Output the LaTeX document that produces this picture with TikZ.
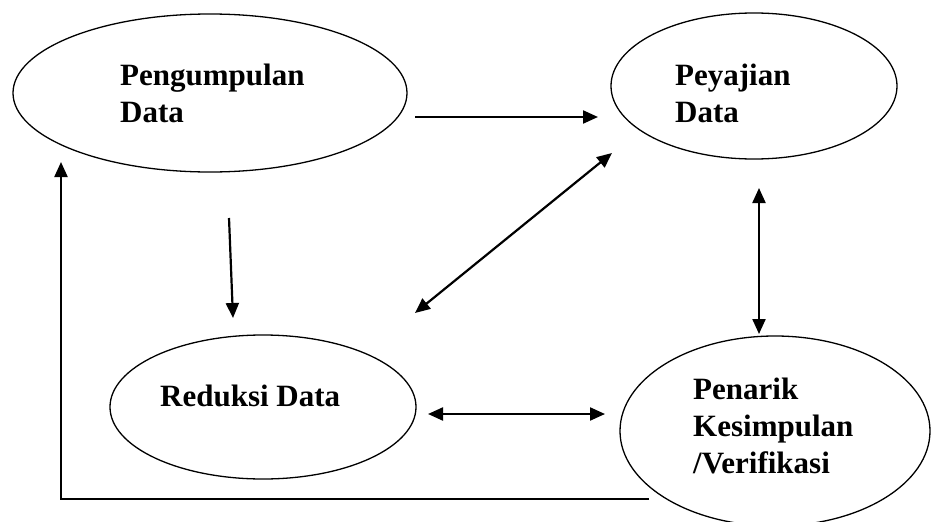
\documentclass[tikz,border=0pt]{standalone}
\usepackage{fontspec}
\setmainfont{Liberation Serif}
\usetikzlibrary{shapes.geometric,arrows.meta}
\begin{document}
\begin{tikzpicture}[x=1pt,y=-1pt,
  bubble/.style={draw,ellipse,line width=1.3pt,inner sep=0pt},
  label/.style={anchor=base west,align=left,inner sep=0pt,font=\fontsize{31}{37}\selectfont\bfseries},
  arr/.style={line width=2.2pt,-{Triangle[length=15pt,width=13pt]}},
  biarr/.style={line width=2.2pt,{Triangle[length=15pt,width=13pt]}-{Triangle[length=15pt,width=13pt]}}]
\useasboundingbox (0,0) rectangle (932,522);
\begin{scope}
\clip (0,0) rectangle (932,522);
\node[bubble,minimum width=394pt,minimum height=158pt] (e1) at (210,93) {};
\node[bubble,minimum width=286pt,minimum height=146pt] (e2) at (754,86) {};
\node[bubble,minimum width=306pt,minimum height=144pt] (e3) at (263,407) {};
\node[bubble,minimum width=310pt,minimum height=190pt] (e4) at (775,431) {};
\end{scope}
\node[label] (t1) at (120,122) {Pengumpulan\\Data};
\node[label] (t2) at (675,122) {Peyajian\\Data};
\node[label] (t3) at (160,406) {Reduksi Data};
\node[label] (t4) at (693,473) {Penarik\\Kesimpulan\\/Verifikasi};
% connector ends
\coordinate (a1s) at (415,117); \coordinate (a1e) at (598,117);
\coordinate (a2s) at (229,218); \coordinate (a2e) at (233,318);
\coordinate (a3s) at (415,313); \coordinate (a3e) at (612,153);
\coordinate (a4s) at (759,188); \coordinate (a4e) at (759,334);
\coordinate (a5s) at (428,414); \coordinate (a5e) at (605,414);
\coordinate (f1) at (649,499); \coordinate (f2) at (61,499); \coordinate (f3) at (61,162);
\draw[arr] (a1s) -- (a1e);
\draw[arr] (a2s) -- (a2e);
\draw[biarr] (a3s) -- (a3e);
\draw[biarr] (a4s) -- (a4e);
\draw[biarr] (a5s) -- (a5e);
\draw[arr] (f1) -- (f2) -- (f3);
\end{tikzpicture}
\end{document}
